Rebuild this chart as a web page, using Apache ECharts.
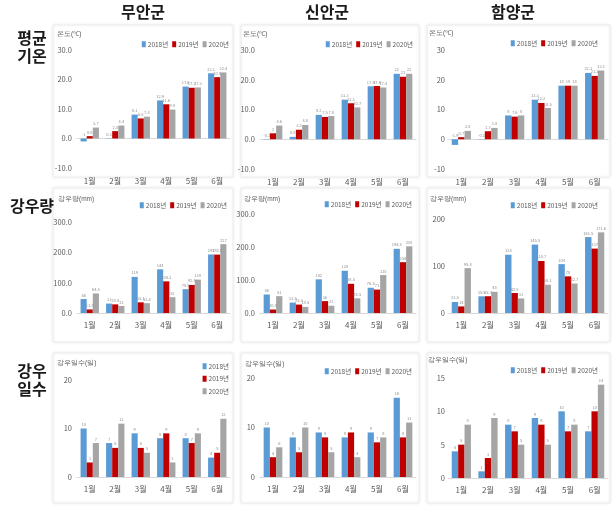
<!DOCTYPE html>
<html><head><meta charset="utf-8">
<script src="https://cdn.jsdelivr.net/npm/echarts@6/dist/echarts.min.js"></script>
<style>html,body{margin:0;padding:0;background:#fff}#c{width:615px;height:512px}</style>
</head><body><div id="c"></div>
<script>
const months = ['1월','2월','3월','4월','5월','6월'];
const years = ['2018년','2019년','2020년'];
const regions = ['무안군','신안군','함양군'];
const rowLabels = ['평균\n기온','강우량','강우\n일수'];
const yTitles = ['온도(℃)','강우량(mm)','강우일수(일)'];

// 평균기온 (℃)
const muanTemp2018 = [-1.0, 0.1, 8.1, 12.9, 17.6, 22.1];
const muanTemp2019 = [0.8, 2.5, 6.8, 11.6, 17.2, 20.8];
const muanTemp2020 = [3.7, 4.4, 7.4, 9.8, 17.3, 22.4];
const sinanTemp2018 = [-0.1, 0.8, 8.2, 13.3, 17.8, 22.0];
const sinanTemp2019 = [2.0, 3.2, 7.5, 12.1, 17.9, 21.0];
const sinanTemp2020 = [4.6, 4.8, 7.8, 10.7, 17.4, 22.0];
const hamyangTemp2018 = [-1.9, -0.1, 8.0, 13.3, 18.0, 22.3];
const hamyangTemp2019 = [0.7, 2.7, 7.6, 12.2, 18.0, 21.3];
const hamyangTemp2020 = [2.8, 3.8, 8.0, 10.5, 18.0, 23.1];

// 강우량 (mm)
const muanRain2018 = [46.0, 31.0, 119.0, 144.0, 78.5, 193.0];
const muanRain2019 = [11.8, 28.5, 35.1, 104.3, 92.5, 192.5];
const muanRain2020 = [64.5, 23.0, 32.4, 52.0, 110.0, 227.0];
const sinanRain2018 = [56.0, 31.5, 102.0, 128.0, 76.5, 194.5];
const sinanRain2019 = [10.5, 25.5, 36.0, 88.5, 71.0, 154.0];
const sinanRain2020 = [51.0, 18.5, 22.0, 44.5, 115.0, 202.0];
const hamyangRain2018 = [23.5, 35.5, 124.0, 145.5, 104.0, 161.5];
const hamyangRain2019 = [14.0, 35.7, 42.5, 110.7, 78.0, 137.0];
const hamyangRain2020 = [95.4, 45.0, 31.0, 60.1, 62.7, 171.6];

// 강우일수 (일)
const muanDays2018 = [10, 7, 9, 8, 8, 4];
const muanDays2019 = [3, 6, 6, 9, 7, 5];
const muanDays2020 = [7, 11, 5, 3, 9, 12];
const sinanDays2018 = [10, 8, 9, 8, 9, 16];
const sinanDays2019 = [4, 5, 8, 9, 7, 8];
const sinanDays2020 = [6, 10, 5, 4, 8, 11];
const hamyangDays2018 = [4, 1, 8, 9, 10, 7];
const hamyangDays2019 = [5, 3, 7, 8, 7, 10];
const hamyangDays2020 = [8, 9, 5, 5, 8, 14];

const colors = ['#5B9BD5', '#C00000', '#A5A5A5'];
const FONT = '"Noto Sans CJK KR", sans-serif';

const panelData = [
  [[muanTemp2018, muanTemp2019, muanTemp2020], [sinanTemp2018, sinanTemp2019, sinanTemp2020], [hamyangTemp2018, hamyangTemp2019, hamyangTemp2020]],
  [[muanRain2018, muanRain2019, muanRain2020], [sinanRain2018, sinanRain2019, sinanRain2020], [hamyangRain2018, hamyangRain2019, hamyangRain2020]],
  [[muanDays2018, muanDays2019, muanDays2020], [sinanDays2018, sinanDays2019, sinanDays2020], [hamyangDays2018, hamyangDays2019, hamyangDays2020]]
];

// layout
const colBox = [[53, 233], [241, 419], [427, 610]];
const rowBox = [[25, 177], [188, 342], [353, 503]];
const gridX = [[77, 230], [260, 416], [448, 608]];
const gridY = [
  [[50, 168], [50, 169], [50, 169]],
  [[222, 313], [214, 313], [219, 313]],
  [[380, 477], [378, 477], [378, 478]]
];
const axisRange = [
  [[-10, 30, 10, 1], [-10, 30, 10, 1], [-10, 30, 10, 0]],
  [[0, 300, 100, 1], [0, 300, 100, 1], [0, 200, 100, 0]],
  [[0, 20, 10, 0], [0, 20, 10, 0], [0, 15, 5, 0]]
];
// legend: [right edge x, top y]
const legendPos = [
  [[229, 41], [413, 41], [598, 40]],
  [[227, 202], [412, 201], [598, 202]],
  [[229, 363], [412, 368], [598, 367]]
];
const yTitlePos = [
  [[57, 35], [243, 35], [429, 34]],
  [[58, 200], [244, 200], [430, 200]],
  [[57, 364], [245, 365], [428, 361]]
];

const grids = [], xAxes = [], yAxes = [], series = [], legends = [], graphics = [];
let idx = 0;
for (let r = 0; r < 3; r++) {
  for (let c = 0; c < 3; c++) {
    const [x0, x1] = gridX[c];
    const [y0, y1] = gridY[r][c];
    grids.push({ left: x0, top: y0, width: x1 - x0, height: y1 - y0, containLabel: false });
    const [mn, mx, iv, dec] = axisRange[r][c];
    xAxes.push({
      type: 'category', gridIndex: idx, data: months,
      axisLine: { onZero: true, lineStyle: { color: '#D9D9D9' } },
      axisTick: { show: false },
      axisLabel: { color: '#595959', fontSize: 8, fontFamily: FONT, margin: r === 0 ? 9 : 8 }
    });
    yAxes.push({
      type: 'value', gridIndex: idx, min: mn, max: mx, interval: iv,
      axisLine: { show: false }, axisTick: { show: false },
      splitLine: { show: false },
      axisLabel: { color: '#595959', fontSize: 7.5, fontFamily: FONT, margin: c === 2 ? 3 : 5,
        formatter: v => dec ? v.toFixed(1) : String(v) }
    });
    for (let s = 0; s < 3; s++) {
      series.push({
        type: 'bar', name: years[s], xAxisIndex: idx, yAxisIndex: idx,
        data: panelData[r][c][s], barWidth: '24%', barGap: '0%',
        itemStyle: { color: colors[s] },
        label: { show: true, position: 'top', fontSize: 4, color: '#8C8C8C', distance: 2, fontFamily: FONT,
          formatter: p => String(p.value) },
        animation: false
      });
    }
    const vertical = (r === 2 && c === 0);
    legends.push({
      data: years, right: 615 - legendPos[r][c][0], top: legendPos[r][c][1], width: 200,
      orient: vertical ? 'vertical' : 'horizontal',
      icon: 'rect', itemWidth: 4, itemHeight: 6, itemGap: vertical ? 6 : 4,
      textStyle: { fontSize: 6.5, color: '#595959', fontFamily: FONT, padding: [0, 0, 0, -3] },
      padding: 0, selectedMode: false
    });
    graphics.push({
      type: 'rect', z: -10, silent: true,
      shape: { x: colBox[c][0], y: rowBox[r][0], width: colBox[c][1] - colBox[c][0], height: rowBox[r][1] - rowBox[r][0] },
      style: { fill: '#fff', stroke: '#EEEEEE', lineWidth: 1, shadowBlur: 3, shadowColor: 'rgba(0,0,0,0.08)' }
    });
    graphics.push({
      type: 'text', left: yTitlePos[r][c][0], top: yTitlePos[r][c][1] - 4, silent: true,
      style: { text: yTitles[r], fontSize: 6.5, fill: '#595959', font: '6.5px ' + FONT }
    });
    idx++;
  }
}
const colTitleX = [143, 327, 513];
for (let c = 0; c < 3; c++) {
  graphics.push({
    type: 'text', x: colTitleX[c], y: 12, silent: true,
    style: { text: regions[c], font: 'bold 16px ' + FONT, fill: '#1a1a1a', textAlign: 'center', textVerticalAlign: 'middle' }
  });
}
const rowLabelY = [47, 206, 380];
for (let r = 0; r < 3; r++) {
  graphics.push({
    type: 'text', x: 32, y: rowLabelY[r], silent: true,
    style: { text: rowLabels[r], font: 'bold 16px ' + FONT, fill: '#1a1a1a', textAlign: 'center', textVerticalAlign: 'middle', lineHeight: 18 }
  });
}

const chart = echarts.init(document.getElementById('c'), null, { renderer: 'canvas' });
chart.setOption({
  animation: false,
  backgroundColor: '#fff',
  grid: grids, xAxis: xAxes, yAxis: yAxes, series: series, legend: legends,
  graphic: graphics
});
</script></body></html>
